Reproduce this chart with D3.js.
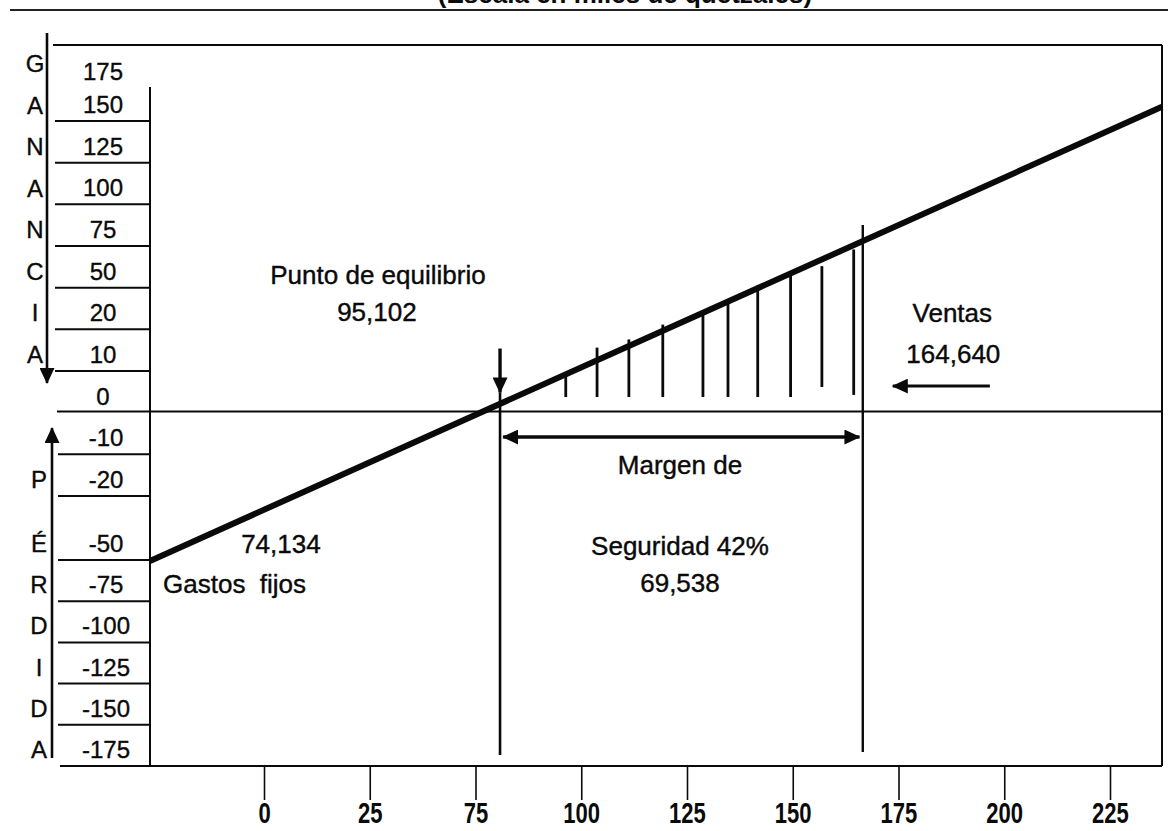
<!DOCTYPE html>
<html><head><meta charset="utf-8">
<script src="https://cdn.jsdelivr.net/npm/d3@7"></script>
<style>html,body{margin:0;padding:0;background:#fff;} svg{display:block;}</style>
</head><body>
<script>
// ---------- data ----------
const titleText = "(Escala en miles de quetzales)";
const profitTickLabels = ["175","150","125","100","75","50","20","10","0","-10","-20","-50","-75","-100","-125","-150","-175"];
const gainLetters = ["G","A","N","A","N","C","I","A"];
const lossLetters = ["P","É","R","D","I","D","A"];
const salesTickLabels = ["0","25","75","100","125","150","175","200","225"];
const salesDomain = [28, 222];      // thousands, plot extent
const profitDomain = [-117, 121];   // thousands, plot extent
const lineSales = [28, 222];
const lineProfit = [-49.3, 100.6];
const breakEvenSales = 95.102;
const salesPoint = 164.640;
const hatchSales = [107.7, 113.7, 119.8, 126.3, 134.0, 138.8, 144.5, 150.8, 156.8, 162.9];
const hatchTop   = [12.5, 21.1, 23.8, 28.7, 32.0, 36.0, 41.6, 45.5, 48.0, 53.5];
const hatchBase  = [4.8, 4.8, 4.8, 4.8, 4.8, 4.8, 4.8, 4.8, 8.1, 5.5];
const annotText   = ["Punto de equilibrio","95,102","Ventas","164,640","Margen de","Seguridad 42%","69,538","74,134","Gastos  fijos"];
const annotSales  = [71.7, 71.5, 181.8, 182.0, 129.6, 129.6, 129.6, 53.1, 30.5];
const annotProfit = [42.1, 29.9, 29.6, 16.0, -20.6, -47.4, -59.6, -46.7, -59.9];
const annotAnchor = ["middle","middle","middle","middle","middle","middle","middle","middle","start"];

// ---------- layout ----------
const W = 1168, H = 831;
const plot = {left:150, right:1162, top:45, bottom:766};
const FONT = "'Liberation Sans', Arial, Helvetica, sans-serif";
const INK = "#0a0a0a";

const svg = d3.select("body").append("svg").attr("width", W).attr("height", H);
svg.append("rect").attr("width", W).attr("height", H).attr("fill", "#fff");

const defs = svg.append("defs");
defs.append("marker").attr("id","ah").attr("viewBox","0 0 16 15")
  .attr("refX",15).attr("refY",7.5).attr("markerWidth",16).attr("markerHeight",15)
  .attr("markerUnits","userSpaceOnUse").attr("orient","auto-start-reverse")
  .append("path").attr("d","M0,0L16,7.5L0,15Z").attr("fill",INK);

const xC = d3.scaleLinear().domain(salesDomain).range([plot.left, plot.right]);
const yC = d3.scaleLinear().domain(profitDomain).range([plot.bottom, plot.top]);

// title (cut off at top in the reference) and rule
svg.append("text").attr("x", 625).attr("y", 2.5).attr("text-anchor","middle")
  .attr("font-family", FONT).attr("font-weight","bold").attr("font-size", 26).attr("fill", INK)
  .text(titleText);
svg.append("line").attr("x1",10).attr("x2",W).attr("y1",10).attr("y2",10)
  .attr("stroke","#222").attr("stroke-width",2.2);

// frame
const frame = svg.append("g").attr("stroke", INK).attr("stroke-width", 2).attr("fill","none");
frame.append("line").attr("x1",53).attr("x2",plot.right).attr("y1",plot.top).attr("y2",plot.top);
frame.append("line").attr("x1",plot.right).attr("x2",plot.right).attr("y1",plot.top).attr("y2",plot.bottom);
frame.append("line").attr("x1",60).attr("x2",plot.right).attr("y1",plot.bottom).attr("y2",plot.bottom);
frame.append("line").attr("x1",plot.left).attr("x2",plot.left).attr("y1",87).attr("y2",plot.bottom);
frame.append("line").attr("x1",57).attr("x2",plot.right).attr("y1",yC(0)).attr("y2",yC(0));

// ---------- left profit/loss table ----------
const rowY = d3.scaleLinear().domain([0,1,10,11,16]).range([80,113,488,552,758]);
const left = svg.append("g").attr("font-family", FONT).attr("font-size", 24).attr("fill", INK)
  .attr("stroke", INK).attr("stroke-width", 0.35);
profitTickLabels.forEach((t,i) => {
  left.append("text").attr("x", i < 9 ? 103 : 106).attr("y", rowY(i))
    .attr("text-anchor","middle").text(t);
  if (i >= 1 && i <= 15 && i !== 8) {
    svg.append("line").attr("x1", i < 8 ? 55 : 58).attr("x2", plot.left)
      .attr("y1", rowY(i) + 8).attr("y2", rowY(i) + 8)
      .attr("stroke", INK).attr("stroke-width", 2);
  }
});
const gainY = d3.scalePoint().domain(d3.range(gainLetters.length)).range([72, 363]);
gainLetters.forEach((l,i) => left.append("text").attr("x",35).attr("y",gainY(i)).attr("text-anchor","middle").text(l));
lossLetters.forEach((l,i) => left.append("text").attr("x",39).attr("y",rowY(10+i)).attr("text-anchor","middle").text(l));
svg.append("line").attr("x1",47).attr("x2",47).attr("y1",33).attr("y2",383)
  .attr("stroke",INK).attr("stroke-width",2.6).attr("marker-end","url(#ah)");
svg.append("line").attr("x1",52).attr("x2",52).attr("y1",758).attr("y2",428)
  .attr("stroke",INK).attr("stroke-width",2.6).attr("marker-end","url(#ah)");

// ---------- bottom axis ----------
const xTick = d3.scalePoint().domain(salesTickLabels).range([264, 1110]);
const ax = svg.append("g").attr("transform", `translate(0,${plot.bottom + 1})`)
  .call(d3.axisBottom(xTick).tickSize(33).tickPadding(4));
ax.select(".domain").remove();
ax.selectAll(".tick line").attr("stroke", INK).attr("stroke-width", 1.6);
ax.selectAll(".tick text").attr("font-family", "'Liberation Sans Narrow', 'Arial Narrow', " + FONT)
  .attr("font-weight","bold").attr("font-size", 29).attr("fill", INK)
  .attr("y", 56).attr("dy", null)
  .attr("transform", "scale(0.76,1)");

// ---------- content ----------
const g = svg.append("g");
g.selectAll("line.hatch").data(hatchSales).join("line").attr("class","hatch")
  .attr("x1", d => xC(d)).attr("x2", d => xC(d))
  .attr("y1", (d,i) => yC(hatchBase[i])).attr("y2", (d,i) => yC(hatchTop[i]))
  .attr("stroke", INK).attr("stroke-width", 2.8);
g.append("line").attr("x1", xC(breakEvenSales)).attr("x2", xC(breakEvenSales))
  .attr("y1", yC(6.3)).attr("y2", yC(-113.4)).attr("stroke", INK).attr("stroke-width", 2.6);
g.append("line").attr("x1", xC(salesPoint)).attr("x2", xC(salesPoint))
  .attr("y1", yC(61.6)).attr("y2", yC(-112.4)).attr("stroke", INK).attr("stroke-width", 2.4);
const line = d3.line().x((d,i) => xC(lineSales[i])).y(d => yC(d));
g.append("path").attr("d", line(lineProfit)).attr("fill","none")
  .attr("stroke", INK).attr("stroke-width", 6);
g.append("line").attr("x1", xC(breakEvenSales)).attr("x2", xC(breakEvenSales))
  .attr("y1", yC(20.8)).attr("y2", yC(6.3)).attr("stroke", INK).attr("stroke-width", 3.4)
  .attr("marker-end","url(#ah)");
g.append("line").attr("x1", xC(189.0)).attr("x2", xC(170.4))
  .attr("y1", yC(8.4)).attr("y2", yC(8.4)).attr("stroke", INK).attr("stroke-width", 3)
  .attr("marker-end","url(#ah)");
g.append("line").attr("x1", xC(95.7)).attr("x2", xC(164.0))
  .attr("y1", yC(-8.4)).attr("y2", yC(-8.4)).attr("stroke", INK).attr("stroke-width", 3.6)
  .attr("marker-start","url(#ah)").attr("marker-end","url(#ah)");

annotText.forEach((t,i) => {
  g.append("text").attr("x", xC(annotSales[i])).attr("y", yC(annotProfit[i]))
    .attr("text-anchor", annotAnchor[i]).attr("font-family", FONT).attr("font-size", 26)
    .attr("fill", INK).attr("stroke", INK).attr("stroke-width", 0.4)
    .style("white-space","pre").text(t);
});
</script>
</body></html>
